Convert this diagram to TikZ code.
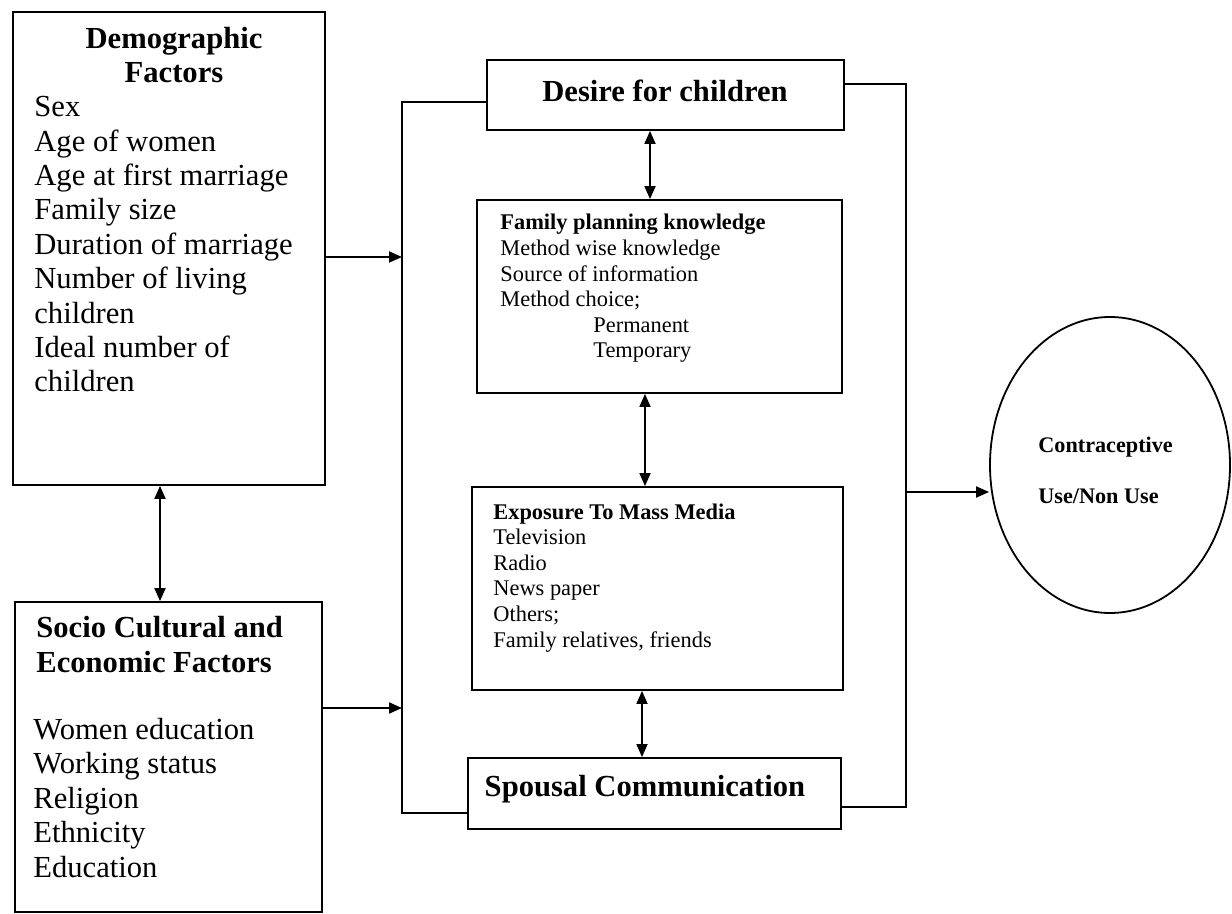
\documentclass[tikz,border=0pt]{standalone}
\usepackage{fontspec}
\setmainfont{Liberation Serif}
\usetikzlibrary{arrows.meta,fit,shapes.geometric}
\begin{document}
\begin{tikzpicture}[x=0.5pt,y=-0.5pt,
  box/.style={draw, line width=0.9pt, inner sep=0pt},
  big/.style={font=\fontsize{15.3}{17.2}\selectfont},
  small/.style={font=\fontsize{11.2}{12.8}\selectfont},
  txt/.style={inner sep=0pt, align=left, anchor=base west},
  link/.style={line width=0.9pt},
  arr/.style={link, -{Triangle[length=6.5pt,width=5.5pt]}},
  darr/.style={link, {Triangle[length=6.5pt,width=5.5pt]}-{Triangle[length=6.5pt,width=5.5pt]}}
]
\useasboundingbox (0,0) rectangle (1232,914);
% boxes
\node[box, fit={(13,12)(325,485)}] (demo) {};
\node[box, fit={(15,602)(322,912)}] (socio) {};
\node[box, fit={(487,60)(844,130)}] (desire) {};
\node[box, fit={(477,200)(842,393)}] (fp) {};
\node[box, fit={(472,487)(843,690)}] (media) {};
\node[box, fit={(468,758)(841,829)}] (spousal) {};
\node[draw, ellipse, line width=0.9pt, inner sep=0pt, minimum width=120pt, minimum height=148pt] (out) at (1110,465) {};
% texts (base anchor = baseline of the last line)
\node[txt, big, align=center, anchor=base] (demoh) at (174,83) {\textbf{Demographic}\\\textbf{Factors}};
\node[txt, big] (demol) at (34,392) {Sex\\Age of women\\Age at first marriage\\Family size\\Duration of marriage\\Number of living\\children\\Ideal number of\\children};
\node[txt, big] (socioh) at (36,672) {\textbf{Socio Cultural and}\\\textbf{Economic Factors}};
\node[txt, big] (sociol) at (33,877) {Women education\\Working status\\Religion\\Ethnicity\\Education};
\node[big, inner sep=0pt] (desiret) at (665,91) {\textbf{Desire for children}};
\node[big, inner sep=0pt] (spousalt) at (645,789) {\textbf{Spousal Communication}};
\node[txt, small] (fpt) at (500,358) {\textbf{Family planning knowledge}\\Method wise knowledge\\Source of information\\Method choice;\\\hspace*{46.5pt}Permanent\\\hspace*{46.5pt}Temporary};
\node[txt, small] (mediat) at (493,647) {\textbf{Exposure To Mass Media}\\Television\\Radio\\News paper\\Others;\\Family relatives, friends};
\node[txt, font=\fontsize{11.1}{25}\selectfont] (outt) at (1038,503) {\textbf{Contraceptive}\\\textbf{Use/Non Use}};
% loop lines
\coordinate (lt) at (402,102);
\coordinate (lb) at (402,813);
\coordinate (rt) at (906,84);
\coordinate (rb) at (906,807);
\draw[link] (desire.west |- lt) -- (lt) -- (lb) -- (spousal.west |- lb);
\draw[link] (desire.east |- rt) -- (rt) -- (rb) -- (spousal.east |- rb);
% inputs
\coordinate (dIn) at (402,257);
\coordinate (sIn) at (402,708);
\coordinate (oOut) at (906,492);
\draw[arr] (demo.east |- dIn) -- (dIn);
\draw[arr] (socio.east |- sIn) -- (sIn);
\draw[arr] (oOut) -- (oOut -| out.west);
% double arrows
\coordinate (x160) at (160,0);
\coordinate (x650) at (650,0);
\coordinate (x645) at (645,0);
\coordinate (x642) at (642,0);
\draw[darr] (demo.south -| x160) -- (socio.north -| x160);
\draw[darr] (desire.south -| x650) -- (fp.north -| x650);
\draw[darr] (fp.south -| x645) -- (media.north -| x645);
\draw[darr] (media.south -| x642) -- (spousal.north -| x642);
\end{tikzpicture}
\end{document}
